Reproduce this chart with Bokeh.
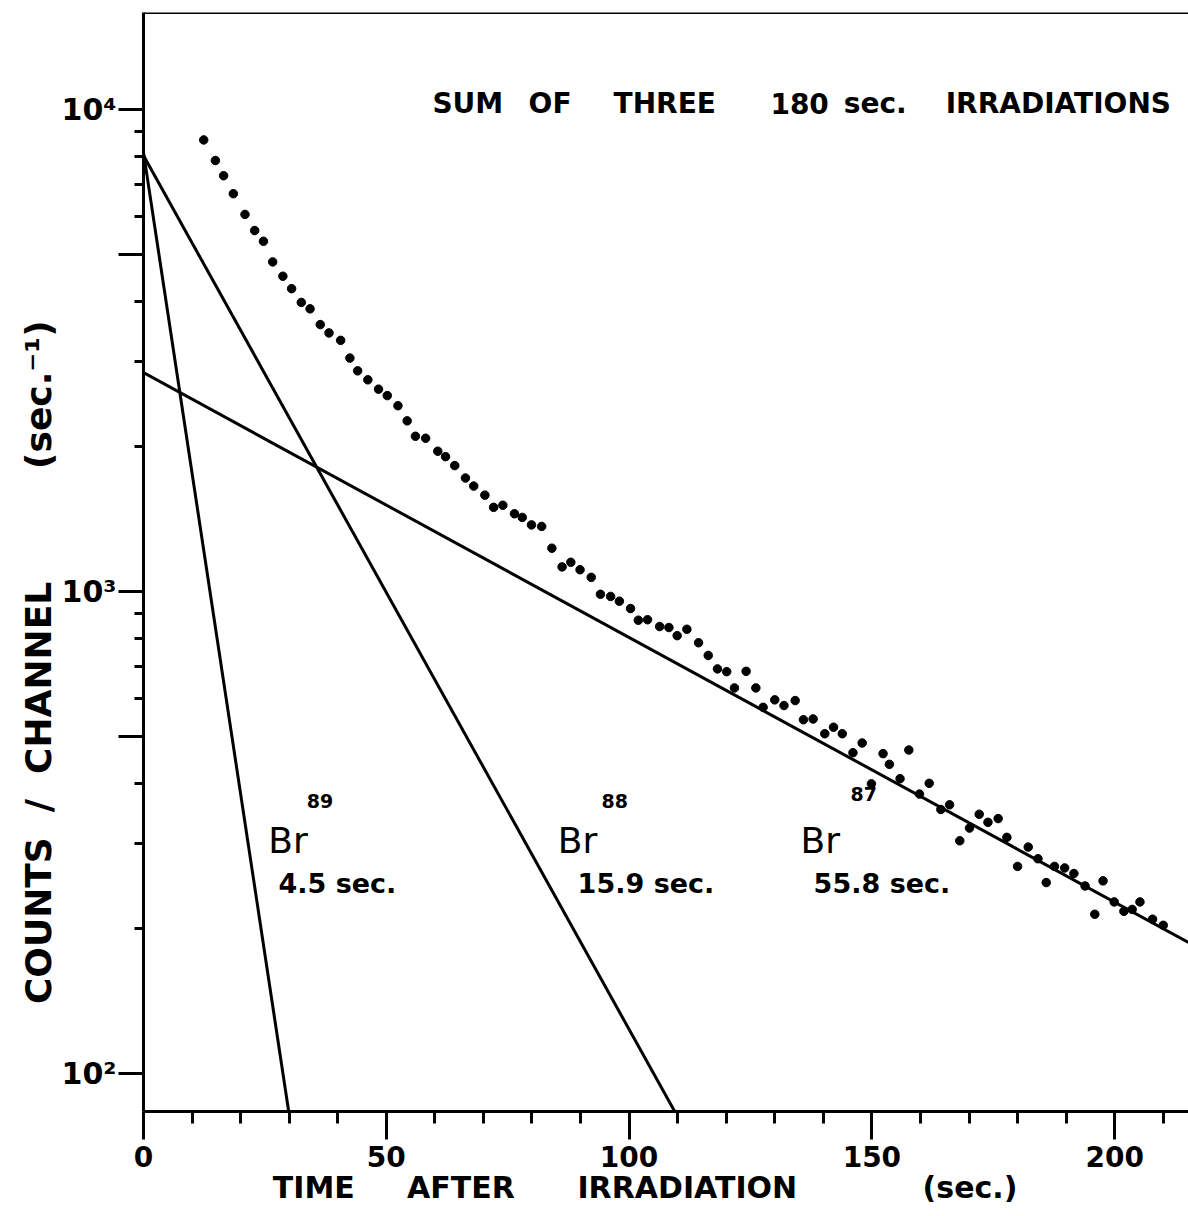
import numpy as np
from bokeh.plotting import figure
from bokeh.models import FixedTicker, Label, Span, Range1d, ColumnDataSource
from bokeh.embed import file_html
from bokeh.resources import INLINE

# ---- data ----
time_s = [12.4, 14.8, 16.5, 18.5, 20.9, 22.9, 24.7, 26.6, 28.7, 30.5,
          32.5, 34.3, 36.4, 38.2, 40.6, 42.5, 44.1, 46.2, 48.4, 50.2,
          52.4, 54.3, 56.0, 58.1, 60.6, 62.2, 64.1, 66.3, 68.0, 70.3,
          72.1, 74.0, 76.4, 78.0, 79.9, 82.0, 84.1, 86.2, 88.0, 89.9,
          92.2, 94.1, 96.2, 98.0, 100.3, 101.9, 103.8, 106.3, 108.2, 109.9,
          111.9, 114.3, 116.3, 118.2, 120.1, 121.7, 124.1, 126.1, 127.6, 130.0,
          131.9, 134.2, 135.9, 137.9, 140.3, 142.1, 143.9, 146.1, 148.0, 149.9,
          152.3, 153.6, 155.8, 157.6, 159.8, 161.8, 164.2, 166.0, 168.1, 170.1,
          172.1, 173.9, 176.0, 177.8, 180.0, 182.2, 184.2, 185.9, 187.6, 189.7,
          191.6, 193.9, 195.9, 197.6, 199.9, 201.9, 203.6, 205.2, 207.8, 210.0]
counts = [8650, 7840, 7290, 6690, 6060, 5610, 5330, 4830, 4510, 4250,
          3980, 3860, 3580, 3440, 3320, 3050, 2870, 2750, 2630, 2550,
          2430, 2260, 2100, 2080, 1955, 1905, 1825, 1720, 1655, 1585,
          1495, 1510, 1450, 1425, 1375, 1365, 1230, 1125, 1150, 1110,
          1070, 987, 977, 955, 922, 872, 874, 846, 842, 810,
          835, 783, 737, 691, 682, 631, 683, 631, 575, 596,
          580, 594, 542, 544, 507, 523, 507, 463, 485, 399,
          461, 438, 409, 469, 380, 400, 353, 361, 304, 323,
          345, 332, 338, 309, 269, 295, 279, 249, 269, 267,
          260, 245, 214, 251, 227, 217, 219, 227, 209, 203]

# fitted decay components (straight lines on the log scale)
component_names = ["Br89", "Br88", "Br87"]
component_mass = ["89", "88", "87"]
component_halflife = ["4.5  sec.", "15.9  sec.", "55.8  sec."]
fit_t_start = [0.0, 0.0, 0.0]
fit_c_start = [8150, 8030, 2845]
fit_t_end = [29.9, 109.4, 215.2]
fit_c_end = [83.4, 83.4, 187]

x_major = [0, 50, 100, 150, 200]
x_minor = [10, 20, 30, 40, 60, 70, 80, 90, 110, 120, 130, 140, 160, 170, 180, 190, 210]
y_major = [100, 500, 1000, 5000, 10000]
y_minor = [200, 300, 400, 600, 700, 800, 900, 2000, 3000, 4000, 6000, 7000, 8000, 9000]
y_labels = {100: "10\u00b2", 1000: "10\u00b3", 10000: "10\u2074", 500: "", 5000: ""}

title_words = ["SUM", "OF", "THREE", "180", "sec.", "IRRADIATIONS"]

NB = "\u00a0"
x_title = "TIME" + NB * 5 + "AFTER" + NB * 6 + "IRRADIATION" + NB * 12 + "(sec.)" + NB * 4
y_title = "COUNTS" + NB * 2 + "/" + NB * 2 + "CHANNEL" + NB * 9 + "(sec.\u207b\u00b9)" + NB * 16

x_range = (0, 215.2)
y_range = (83.4, 15900)

FONT = "DejaVu Sans"

p = figure(width=1188, height=1216, x_range=Range1d(*x_range), y_range=Range1d(*y_range),
           y_axis_type="log", output_backend="svg", toolbar_location=None,
           min_border_left=143, min_border_right=0, min_border_top=12, min_border_bottom=105)
p.grid.visible = False
p.outline_line_color = None
p.background_fill_color = "white"
p.border_fill_color = "white"

for ax in (p.xaxis[0], p.yaxis[0]):
    ax.axis_line_width = 3
    ax.axis_line_color = "black"
    ax.major_tick_in = 0
    ax.minor_tick_in = 0
    ax.major_tick_line_width = 3
    ax.minor_tick_line_width = 3
    ax.major_label_text_font = FONT
    ax.major_label_text_font_style = "bold"
    ax.major_label_text_color = "black"
    ax.axis_label_text_font = FONT
    ax.axis_label_text_font_style = "bold"
    ax.axis_label_text_color = "black"
    ax.axis_label_standoff = 0

p.xaxis.ticker = FixedTicker(ticks=x_major, minor_ticks=x_minor)
p.xaxis.major_tick_out = 28
p.xaxis.minor_tick_out = 12
p.xaxis.major_label_text_font_size = "28px"
p.xaxis.major_label_standoff = 6
p.xaxis.axis_label = x_title
p.xaxis.axis_label_text_font_size = "30px"

p.yaxis.ticker = FixedTicker(ticks=y_major, minor_ticks=y_minor)
p.yaxis.major_tick_out = 25
p.yaxis.minor_tick_out = 9
p.yaxis.major_label_text_font_size = "30px"
p.yaxis.major_label_standoff = 2
p.yaxis.major_label_overrides = y_labels
p.yaxis.axis_label = y_title
p.yaxis.axis_label_text_font_size = "36px"

# top frame line
p.add_layout(Span(location=y_range[1], dimension="width", line_color="black", line_width=3))

# fitted component lines
src_lines = ColumnDataSource(dict(x0=fit_t_start, y0=fit_c_start, x1=fit_t_end, y1=fit_c_end))
p.segment("x0", "y0", "x1", "y1", source=src_lines, line_color="black", line_width=3)

# measured points
src_pts = ColumnDataSource(dict(t=time_s, c=counts))
p.scatter("t", "c", source=src_pts, size=8.5, color="black")

# component labels (data coordinates)
br_t = [25.7, 85.3, 135.3]
br_c = [305, 305, 305]
mass_t = [33.6, 94.3, 145.6]
mass_c = [367, 367, 380]
hl_t = [27.8, 89.4, 138.0]
hl_c = [248, 248, 248]
for i in range(3):
    p.add_layout(Label(x=br_t[i], y=br_c[i], text="Br", text_font=FONT, text_font_size="36px",
                       text_color="black", text_baseline="alphabetic", text_align="left"))
    p.add_layout(Label(x=mass_t[i], y=mass_c[i], text=component_mass[i], text_font=FONT,
                       text_font_style="bold", text_font_size="19px", text_color="black",
                       text_baseline="alphabetic", text_align="left"))
    p.add_layout(Label(x=hl_t[i], y=hl_c[i], text=component_halflife[i], text_font=FONT,
                       text_font_style="bold", text_font_size="27px", text_color="black",
                       text_baseline="alphabetic", text_align="left"))

# title words (data coordinates)
title_t = [59.5, 79.3, 96.8, 129.1, 144.2, 165.2]
title_c = 10300
for w, tx in zip(title_words, title_t):
    p.add_layout(Label(x=tx, y=title_c, text=w, text_font=FONT, text_font_style="bold",
                       text_font_size="28px", text_color="black",
                       text_baseline="alphabetic", text_align="left"))

open("out.html", "w").write(file_html(p, INLINE))
